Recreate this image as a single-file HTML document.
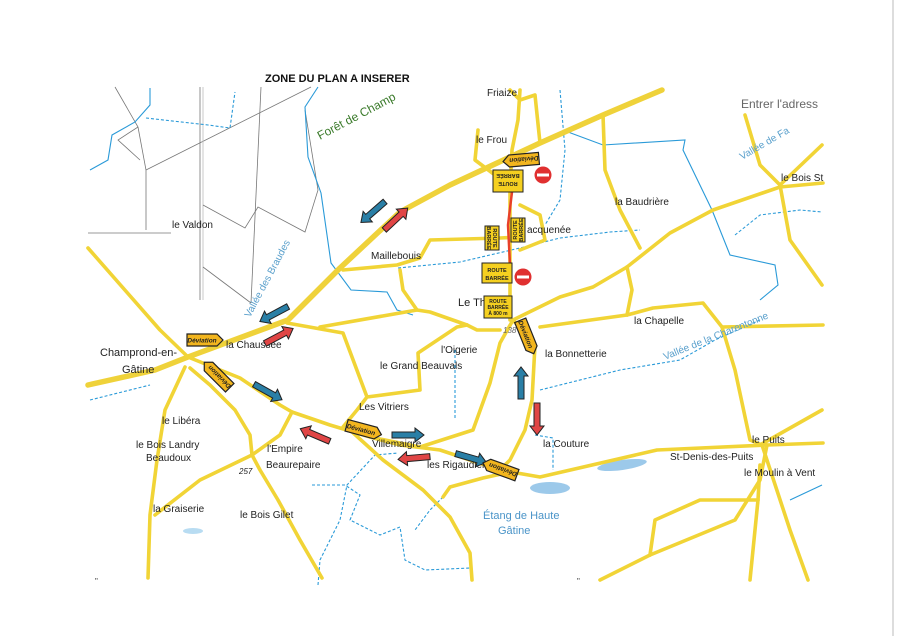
<!DOCTYPE html>
<html><head><meta charset="utf-8"><style>
html,body{margin:0;padding:0;background:#fff;}
svg{display:block;font-family:"Liberation Sans",sans-serif;}
.r{fill:none;stroke:#f1d436;stroke-width:3.6;stroke-linecap:round;stroke-linejoin:round}
.rb{fill:none;stroke:#efd23a;stroke-width:5.5;stroke-linecap:round;stroke-linejoin:round}
.g{fill:none;stroke:#777;stroke-width:0.8}
.b{fill:none;stroke:#2a9ad8;stroke-width:1.1}
.bd{fill:none;stroke:#2a9ad8;stroke-width:1.1;stroke-dasharray:3 2}
.t{font-size:10px;fill:#222}
.lb{font-size:10px;fill:#5aa0cc}
</style></head><body>
<svg width="899" height="636" viewBox="0 0 899 636" xmlns="http://www.w3.org/2000/svg">
<rect width="899" height="636" fill="#fff"/>
<line x1="893" y1="0" x2="893" y2="636" stroke="#ddd" stroke-width="2"/>
<text x="265" y="82" font-size="11" font-weight="bold" fill="#111">ZONE DU PLAN A INSERER</text>
<!-- gray lines -->
<g class="g">
<path d="M146,170 L311,87"/><path d="M261,87 L251,303"/>
<path d="M200,87 L200,300"/><path d="M203,87 L203,300" stroke="#bbb"/>
<path d="M203,205 L245,228 L258,207 L305,232 L318,190 L305,110"/>
<path d="M203,267 L251,303"/><path d="M88,233 L171,233"/>
<path d="M115,87 L138,127 L146,170 L146,230"/><path d="M138,127 L118,140 L140,160"/>
</g>
<!-- water -->
<g>
<path class="b" d="M90,170 L108,160 L112,135 L135,122 L150,105 L150,88"/>
<path class="bd" d="M146,118 L208,125 L230,128 L235,92"/>
<path class="b" d="M318,87 L305,107 L308,157 L321,193 L331,263 L351,290 L387,292 L397,310 L413,315"/>
<path class="bd" d="M398,268 L460,262 L520,248 L560,238 L610,232 L640,230"/>
<path class="bd" d="M560,90 L565,150 L560,200 L545,225"/>
<path class="b" d="M568,132 L603,145 L685,140 L683,150 L712,210 L730,255 L775,265 L778,285 L760,300"/>
<path class="bd" d="M735,235 L760,215 L800,210 L822,212"/>
<path class="bd" d="M90,400 L150,385"/>
<path class="bd" d="M540,390 L620,370 L680,360 L715,340 L760,320"/>
<path class="bd" d="M455,350 L455,420"/>
<path class="bd" d="M318,585 L320,560 L340,520 L347,485 L375,455 L398,453"/>
<path class="bd" d="M312,485 L345,485 L360,495 L350,520 L380,535 L400,527 L405,560 L425,570 L470,568"/>
<path class="bd" d="M443,497 L430,510 L415,530"/>
<path class="bd" d="M535,435 L553,438 L553,470"/>
<path class="b" d="M790,500 L822,485"/>
<ellipse cx="550" cy="488" rx="20" ry="6" fill="#9cc9ea"/>
<ellipse cx="622" cy="465" rx="25" ry="5" fill="#9cc9ea" transform="rotate(-8 622 465)"/>
<ellipse cx="193" cy="531" rx="10" ry="3" fill="#b8dcf2"/>
</g>
<!-- roads -->
<g>
<path class="rb" d="M88,385 L155,370 L188,357 L288,320 L340,268 L400,212 L450,185 L540,143 L603,115 L662,90"/>
<path class="r" d="M88,248 L160,330 L188,357"/>
<path class="r" d="M188,357 L240,378 L280,405 L292,412 L330,425 L370,437 L420,447 L473,430 L490,383 L500,343 L513,320 L560,297 L593,287 L627,267 L670,233 L713,210 L780,187 L823,183"/>
<path class="r" d="M370,437 L400,445 L440,450 L470,460 L500,470 L540,477 L657,450 L767,445 L823,443"/>
<path class="r" d="M760,445 L822,410"/>
<path class="r" d="M185,367 L165,410 L157,460 L150,515 L148,578"/>
<path class="r" d="M190,368 L210,385 L235,410 L250,435 L252,455 L260,470 L278,500 L300,540 L322,578"/>
<path class="r" d="M252,455 L200,480 L155,515"/><path class="r" d="M252,455 L280,435 L292,412"/>
<path class="r" d="M350,430 L383,460 L423,490 L450,517 L470,553 L472,580"/>
<path class="r" d="M443,497 L450,487 L483,478 L510,472"/>
<path class="r" d="M343,427 L357,410 L367,397 L420,390 L418,353 L457,327 L467,325"/>
<path class="r" d="M367,397 L343,333 L287,323"/>
<path class="r" d="M343,270 L397,265 L420,258 L430,240 L500,238 L520,237"/>
<path class="r" d="M400,270 L403,290 L417,310 L430,312 L467,325 L477,330 L500,330"/>
<path class="r" d="M417,310 L320,327"/>
<path class="r" d="M513,320 L535,345 L532,400 L525,430 L510,460 L500,470"/>
<path class="r" d="M520,90 L518,120 L512,150 L510,190 L510,320"/>
<path class="r" d="M510,90 L520,100 L535,95 L540,143"/>
<path class="r" d="M478,130 L475,160 L495,175"/>
<path class="r" d="M520,205 L540,215 L545,240 L520,250"/>
<path class="r" d="M540,327 L627,315 L653,308 L703,303 L722,327 L823,325"/>
<path class="r" d="M627,267 L632,290 L627,315"/>
<path class="r" d="M603,115 L605,170 L620,210 L640,248"/>
<path class="r" d="M722,327 L735,370 L750,440 L762,445"/>
<path class="r" d="M745,115 L760,165 L780,185 L790,240 L822,285"/><path class="r" d="M822,145 L780,185"/>
<path class="r" d="M767,445 L760,480 L735,520 L650,555 L600,580"/>
<path class="r" d="M762,445 L790,530 L808,580"/><path class="r" d="M760,465 L758,500 L750,580"/>
<path class="r" d="M650,555 L655,520 L700,500 L758,500"/>
</g>
<path d="M512,192 L508,225 L510,265" stroke="#e8402a" stroke-width="2.5" fill="none"/>
<!-- labels -->
<g class="t">
<text x="487" y="96">Friaize</text>
<text x="476" y="143">le Frou</text>
<text x="527" y="233">acquenée</text>
<text x="371" y="259">Maillebouis</text>
<text x="458" y="306" font-size="11">Le Th</text>
<text x="441" y="353">l'Oigerie</text>
<text x="380" y="369">le Grand Beauvals</text>
<text x="359" y="410">Les Vitriers</text>
<text x="372" y="447">Villemaigre</text>
<text x="427" y="468">les Rigaudières</text>
<text x="543" y="447">la Couture</text>
<text x="545" y="357">la Bonnetterie</text>
<text x="634" y="324">la Chapelle</text>
<text x="615" y="205">la Baudrière</text>
<text x="781" y="181">le Bois St</text>
<text x="670" y="460">St-Denis-des-Puits</text>
<text x="752" y="443">le Puits</text>
<text x="744" y="476">le Moulin à Vent</text>
<text x="172" y="228">le Valdon</text>
<text x="100" y="356" font-size="11">Champrond-en-</text>
<text x="122" y="373" font-size="11">Gâtine</text>
<text x="226" y="348">la Chaussée</text>
<text x="162" y="424">le Libéra</text>
<text x="136" y="448">le Bois Landry</text>
<text x="146" y="461">Beaudoux</text>
<text x="267" y="452">l'Empire</text>
<text x="266" y="468">Beaurepaire</text>
<text x="239" y="474" font-size="8" font-style="italic">257</text>
<text x="153" y="512">la Graiserie</text>
<text x="240" y="518">le Bois Gilet</text>
<text x="503" y="333" font-size="8" font-style="italic" fill="#666">138</text>
</g>
<text x="483" y="519" font-size="11" fill="#4a94c8">Étang de Haute</text>
<text x="498" y="534" font-size="11" fill="#4a94c8">Gâtine</text>
<text x="741" y="108" font-size="12" fill="#666">Entrer l'adress</text>
<text x="320" y="140" font-size="12" fill="#3a7a2a" transform="rotate(-28 320 140)">Forêt de Champ</text>
<text x="250" y="318" class="lb" transform="rotate(-62 250 318)">Vallée des Braudes</text>
<text x="665" y="360" class="lb" transform="rotate(-22 665 360)">Vallée de la Charentonne</text>
<text x="742" y="160" class="lb" transform="rotate(-30 742 160)">Vallée de Fa</text>
<!-- arrows -->
<defs>
<polygon id="ar" points="-16,-3 7,-3 7,-7 16,0 7,7 7,3 -16,3" stroke="#222" stroke-width="1"/>
</defs>
<g fill="#2a7fa6"><use href="#ar" transform="translate(373,212) rotate(139)"/>
<use href="#ar" transform="translate(274,314) rotate(152)"/>
<use href="#ar" transform="translate(268,392) rotate(29)"/>
<use href="#ar" transform="translate(408,435)"/>
<use href="#ar" transform="translate(471,458) rotate(16)"/>
<use href="#ar" transform="translate(521,383) rotate(-90)"/></g>
<g fill="#e04545"><use href="#ar" transform="translate(396,219) rotate(-43)"/>
<use href="#ar" transform="translate(279,336) rotate(-28)"/>
<use href="#ar" transform="translate(315,435) rotate(203)"/>
<use href="#ar" transform="translate(414,458) rotate(175)"/>
<use href="#ar" transform="translate(537,419) rotate(90)"/></g>
<!-- deviation signs -->
<defs><g id="dv"><path d="M-18,-6 L12,-6 L18,0 L12,6 L-18,6 Z" fill="#f2b51e" stroke="#222" stroke-width="1.2"/><text x="-3" y="2.5" font-size="6.5" font-weight="bold" font-style="italic" text-anchor="middle" fill="#222">Déviation</text></g></defs>
<use href="#dv" transform="translate(205,340)"/>
<use href="#dv" transform="translate(217,375) rotate(225)"/>
<use href="#dv" transform="translate(364,430) rotate(15)"/>
<use href="#dv" transform="translate(500,469) rotate(-160)"/>
<use href="#dv" transform="translate(527,337) rotate(68)"/>
<use href="#dv" transform="translate(521,160) rotate(175)"/>
<!-- route barree -->
<g font-size="5.5" font-weight="bold" text-anchor="middle" fill="#222">
<g transform="translate(508,181) rotate(180)"><rect x="-15" y="-11" width="30" height="22" fill="#f5d020" stroke="#222"/><text y="-1">ROUTE</text><text y="7">BARRÉE</text></g>
<g transform="translate(492,238) rotate(90)"><rect x="-12" y="-7" width="24" height="14" fill="#f5d020" stroke="#222"/><text y="-1">ROUTE</text><text y="5">BARRÉE</text></g>
<g transform="translate(518,230) rotate(-90)"><rect x="-12" y="-7" width="24" height="14" fill="#f5d020" stroke="#222"/><text y="-1">ROUTE</text><text y="5">BARRÉE</text></g>
<g transform="translate(497,273)"><rect x="-15" y="-10" width="30" height="20" fill="#f5d020" stroke="#222"/><text y="-1">ROUTE</text><text y="7">BARRÉE</text></g>
<g transform="translate(498,307)"><rect x="-14" y="-11" width="28" height="22" fill="#f5d020" stroke="#222"/><text y="-4" font-size="5">ROUTE</text><text y="2" font-size="5">BARRÉE</text><text y="8" font-size="5">À 800 m</text></g>
</g>
<g><circle cx="543" cy="175" r="8.5" fill="#e03030"/><rect x="537" y="173.5" width="12" height="3" fill="#fff"/>
<circle cx="523" cy="277" r="8.5" fill="#e03030"/><rect x="517" y="275.5" width="12" height="3" fill="#fff"/></g>
<text x="95" y="584" font-size="8" fill="#333">"</text><text x="577" y="584" font-size="8" fill="#333">"</text>
</svg>
</body></html>
